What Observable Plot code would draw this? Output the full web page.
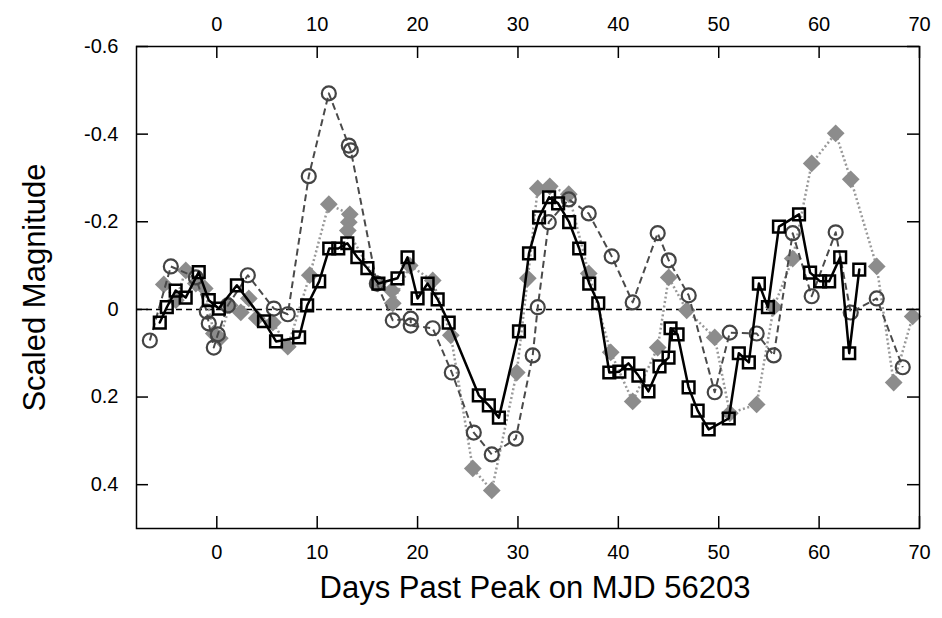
<!DOCTYPE html>
<html><head><meta charset="utf-8">
<script src="https://cdn.jsdelivr.net/npm/d3@7"></script>
<script src="https://cdn.jsdelivr.net/npm/@observablehq/plot@0.6"></script>
<style>body{margin:0;background:#fff;} svg{display:block;}</style>
</head><body><div id="chart"></div>
<script>
// Series A: open black squares, solid line
const sqX = [-5.68,-4.98,-4.1,-3.1,-1.8,-0.8,0.2,2.0,4.7,5.9,8.2,9.0,10.2,11.2,12.1,13.0,14.0,15.0,16.1,18.0,19.0,20.0,21.0,22.0,23.1,26.1,27.1,28.1,30.1,31.1,32.1,33.1,34.0,35.1,36.1,37.1,38.0,39.1,40.1,41.0,42.0,43.0,44.1,45.0,45.2,45.9,47.0,47.9,49.0,51.0,52.0,53.0,54.0,54.9,56.0,58.0,59.1,60.1,61.0,62.1,63.0,64.0];
const sqY = [0.030,-0.005,-0.043,-0.027,-0.085,-0.021,-0.002,-0.055,0.027,0.073,0.064,-0.009,-0.064,-0.139,-0.139,-0.151,-0.119,-0.094,-0.059,-0.071,-0.119,-0.025,-0.059,-0.023,0.030,0.196,0.219,0.247,0.050,-0.128,-0.210,-0.256,-0.242,-0.199,-0.139,-0.059,-0.014,0.144,0.142,0.123,0.151,0.187,0.130,0.110,0.043,0.057,0.178,0.231,0.274,0.249,0.100,0.121,-0.059,-0.005,-0.189,-0.217,-0.084,-0.064,-0.064,-0.119,0.100,-0.091];
// Series B: gray diamonds, dotted line
const diX = [-5.28,-4.08,-3.09,-2.09,-1.20,-0.30,0.30,1.29,2.39,3.19,3.98,5.58,7.07,9.26,11.16,13.25,13.15,13.05,16.04,17.43,17.53,19.22,21.51,23.31,25.50,27.39,29.88,30.98,31.97,33.17,35.06,37.05,39.24,41.43,43.92,45.02,46.81,49.60,51.10,53.78,55.48,57.37,59.26,61.65,63.15,65.74,67.43,69.32];
const diY = [-0.057,-0.021,-0.089,-0.059,-0.048,0.055,0.066,-0.009,0.007,-0.025,0.020,0.030,0.085,-0.078,-0.240,-0.217,-0.199,-0.180,-0.059,-0.043,-0.014,-0.100,-0.066,0.059,0.363,0.413,0.144,-0.071,-0.276,-0.281,-0.263,-0.082,0.098,0.210,0.087,-0.073,0.002,0.064,0.237,0.217,-0.005,-0.116,-0.333,-0.402,-0.297,-0.098,0.167,0.016];
// Series C: open dark-gray circles, dashed line
const ciX = [-6.67,-4.58,-2.09,-1.00,-0.80,-0.30,0.10,1.10,3.09,5.68,7.07,9.16,11.16,13.15,13.35,15.94,17.53,19.32,19.32,21.51,23.41,25.60,27.39,29.78,31.47,31.97,33.07,35.06,37.05,39.34,41.43,43.92,45.02,47.01,49.60,51.10,53.78,55.48,57.37,59.26,61.65,63.15,65.74,68.33];
const ciY = [0.071,-0.098,-0.073,0.005,0.032,0.087,0.057,-0.009,-0.078,-0.002,0.011,-0.304,-0.493,-0.374,-0.363,-0.059,0.025,0.021,0.037,0.043,0.144,0.281,0.331,0.295,0.105,-0.005,-0.199,-0.251,-0.219,-0.121,-0.016,-0.174,-0.112,-0.032,0.189,0.053,0.055,0.105,-0.174,-0.030,-0.176,0.007,-0.025,0.132];

const xTicks = [0,10,20,30,40,50,60,70];
const yTicks = [-0.6,-0.4,-0.2,0,0.2,0.4];
const xTitle = "Days Past Peak on MJD 56203";
const yTitle = "Scaled Magnitude";

const toRows = (xs, ys) => xs.map((x, i) => ({x, y: ys[i]}));
const sq = toRows(sqX, sqY), di = toRows(diX, diY), ci = toRows(ciX, ciY);

const W = 942, H = 618, mL = 136, mR = 23, mT = 46, mB = 90;
const pW = W - mL - mR, pH = H - mT - mB, tk = 12;
const fmtY = d => d === 0 ? "0" : d.toFixed(1);

const chart = Plot.plot({
  width: W, height: H,
  marginLeft: mL, marginRight: mR, marginTop: mT, marginBottom: mB,
  style: {fontFamily: "Liberation Sans, Arial, sans-serif", background: "#fff", color: "#000"},
  x: {domain: [-8, 70]},
  y: {domain: [-0.6, 0.5], reverse: true},
  marks: [
    Plot.ruleY([0], {stroke: "#000", strokeWidth: 1.5, strokeDasharray: "6,4"}),
    // diamonds
    Plot.line(di, {x: "x", y: "y", stroke: "#999", strokeWidth: 2.5, strokeDasharray: "2,2.5", strokeLinecap: "butt"}),
    Plot.dot(di, {x: "x", y: "y", symbol: "diamond2", r: 8, fill: "#8c8c8c", stroke: "none"}),
    // circles
    Plot.line(ci, {x: "x", y: "y", stroke: "#4a4a4a", strokeWidth: 2, strokeDasharray: "7,4", strokeLinecap: "butt"}),
    Plot.dot(ci, {x: "x", y: "y", symbol: "circle", r: 7, fill: "none", stroke: "#444", strokeWidth: 2.2}),
    // squares
    Plot.line(sq, {x: "x", y: "y", stroke: "#000", strokeWidth: 2.5}),
    Plot.dot(sq, {x: "x", y: "y", symbol: "square", r: 6.6, fill: "none", stroke: "#000", strokeWidth: 2.5}),
    // frame and inward ticks
    Plot.frame({stroke: "#000", strokeWidth: 1.5}),
    Plot.tickX(xTicks, {x: d => d, insetTop: pH - tk, stroke: "#000", strokeWidth: 1.5}),
    Plot.tickX(xTicks, {x: d => d, insetBottom: pH - tk, stroke: "#000", strokeWidth: 1.5}),
    Plot.tickY(yTicks, {y: d => d, insetRight: pW - tk, stroke: "#000", strokeWidth: 1.5}),
    Plot.tickY(yTicks, {y: d => d, insetLeft: pW - tk, stroke: "#000", strokeWidth: 1.5}),
    // tick labels
    Plot.axisX({anchor: "bottom", ticks: xTicks, tickSize: 0, tickPadding: 16, fontSize: 20, label: null}),
    Plot.axisX({anchor: "top", ticks: xTicks, tickSize: 0, tickPadding: 16, fontSize: 20, label: null}),
    Plot.axisY({anchor: "left", ticks: yTicks, tickSize: 0, tickPadding: 18, fontSize: 20, tickFormat: fmtY, label: null}),
    // titles
    Plot.text([xTitle], {text: d => d, frameAnchor: "bottom", dy: 69, dx: 7, fontSize: 31, fill: "#000"}),
    Plot.text([yTitle], {text: d => d, frameAnchor: "left", dx: -101, rotate: -90, textAnchor: "middle", fontSize: 31, fill: "#000"})
  ]
});
document.getElementById("chart").appendChild(chart);
</script>
</body></html>
